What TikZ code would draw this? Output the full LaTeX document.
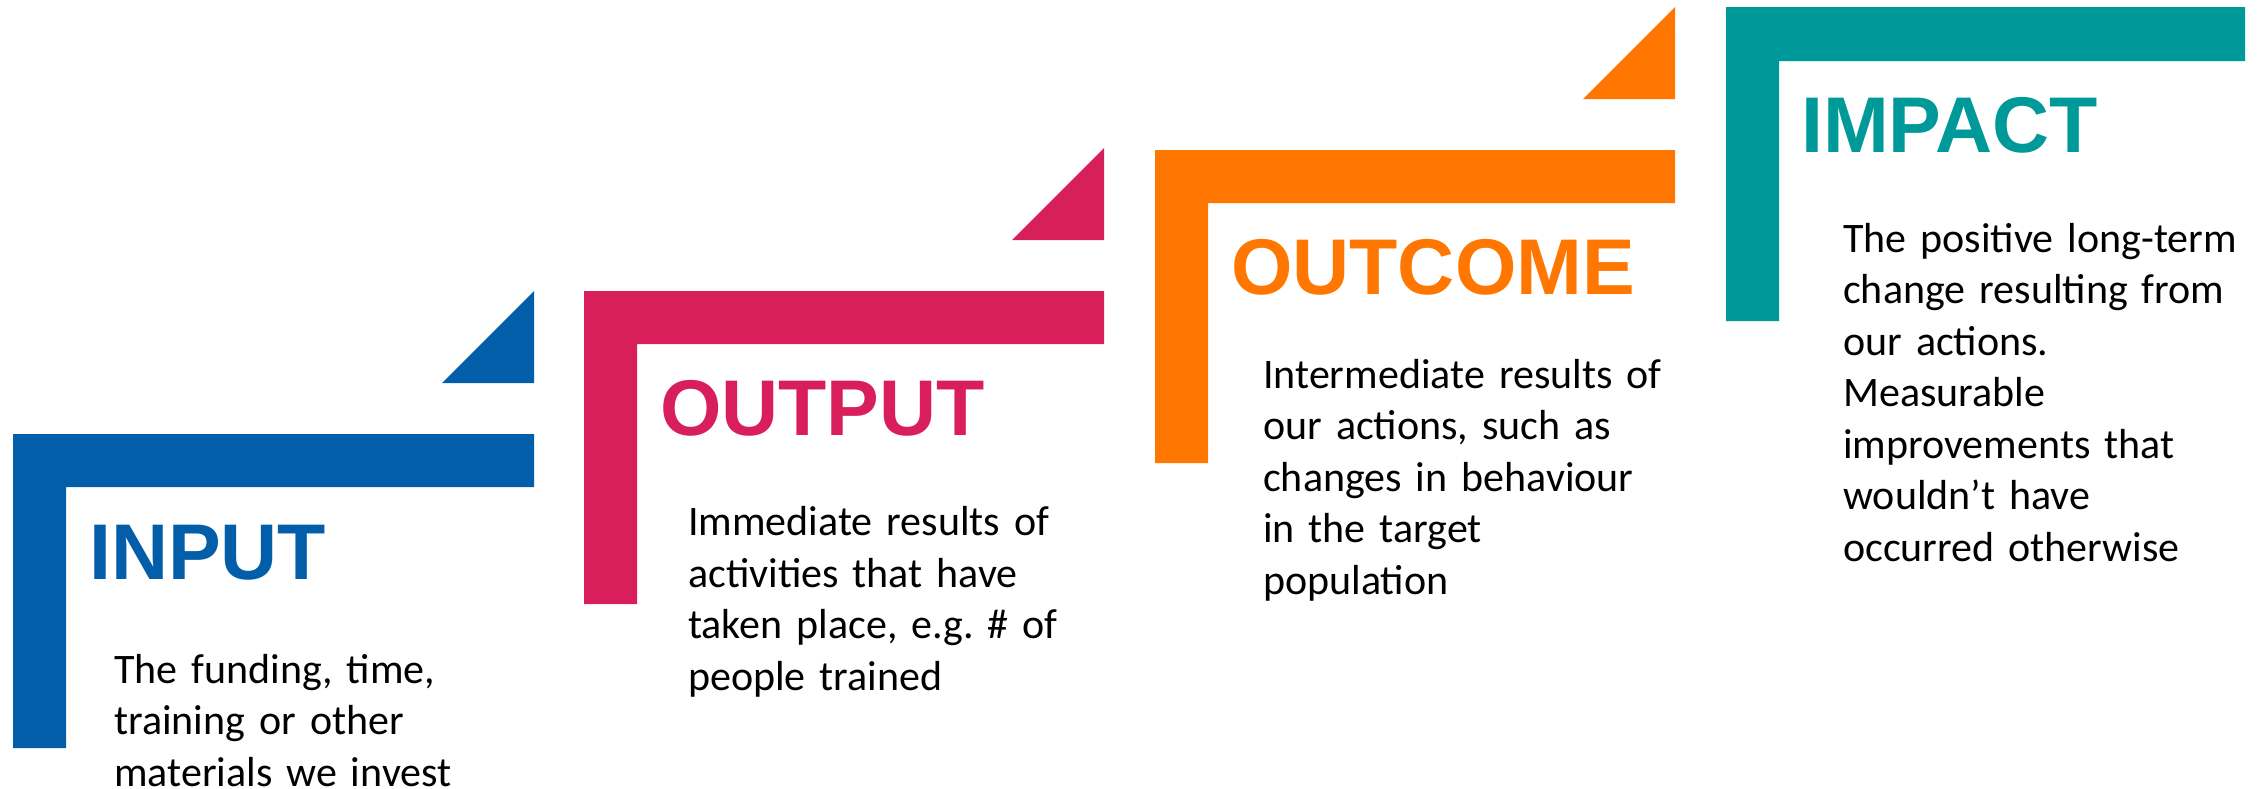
\documentclass[tikz,border=0pt]{standalone}
\usepackage{fontspec}
\setmainfont{Carlito}
\newfontfamily\headfont{Liberation Sans}
\definecolor{inputblue}{HTML}{035EAA}
\definecolor{outputpink}{HTML}{D81E5B}
\definecolor{outcomeorange}{HTML}{FF7600}
\definecolor{impactteal}{HTML}{009999}
\frenchspacing
\begin{document}
\begin{tikzpicture}[x=1pt,y=-1pt,
    head/.style={anchor=base west,inner sep=0pt,font=\headfont\bfseries\fontsize{79}{90}\selectfont},
    body/.style={anchor=base west,inner sep=0pt,text width=500pt,align=left,font=\fontsize{42}{51.5}\selectfont}]
  \useasboundingbox (0,0) rectangle (2257,788);
  \fill[inputblue] (13,434) -- (534,434) -- (534,487) -- (66,487) -- (66,748) -- (13,748) -- cycle;
  \fill[inputblue] (442,383) -- (534,291) -- (534,383) -- cycle;
  \node[head,text=inputblue] (inhead) at (89,579) {INPUT};
  \node[body] (intext) at (114,683) {The funding, time,\\training or other\\materials we invest};
  \fill[outputpink] (584,291) -- (1104,291) -- (1104,344) -- (637,344) -- (637,604) -- (584,604) -- cycle;
  \fill[outputpink] (1012,240) -- (1104,148) -- (1104,240) -- cycle;
  \node[head,text=outputpink] (outhead) at (660,435.5) {OUTPUT};
  \node[body] (outtext) at (688,535.7) {Immediate results of\\activities that have\\taken place, e.g. \# of\\people trained};
  \fill[outcomeorange] (1155,150) -- (1675,150) -- (1675,203) -- (1208,203) -- (1208,463) -- (1155,463) -- cycle;
  \fill[outcomeorange] (1583,99) -- (1675,7) -- (1675,99) -- cycle;
  \node[head,text=outcomeorange] (ochead) at (1231,294) {OUTCOME};
  \node[body] (octext) at (1263,388.4) {Intermediate results of\\our actions, such as\\changes in behaviour\\in the target\\population};
  \fill[impactteal] (1726,7) -- (2245,7) -- (2245,61) -- (1779,61) -- (1779,321) -- (1726,321) -- cycle;
  \node[head,text=impactteal] (imhead) at (1801,152.6) {IMPACT};
  \node[body] (imtext) at (1843,252) {The positive long-term\\change resulting from\\our actions.\\Measurable\\improvements that\\wouldn’t have\\occurred otherwise};
\end{tikzpicture}
\end{document}
